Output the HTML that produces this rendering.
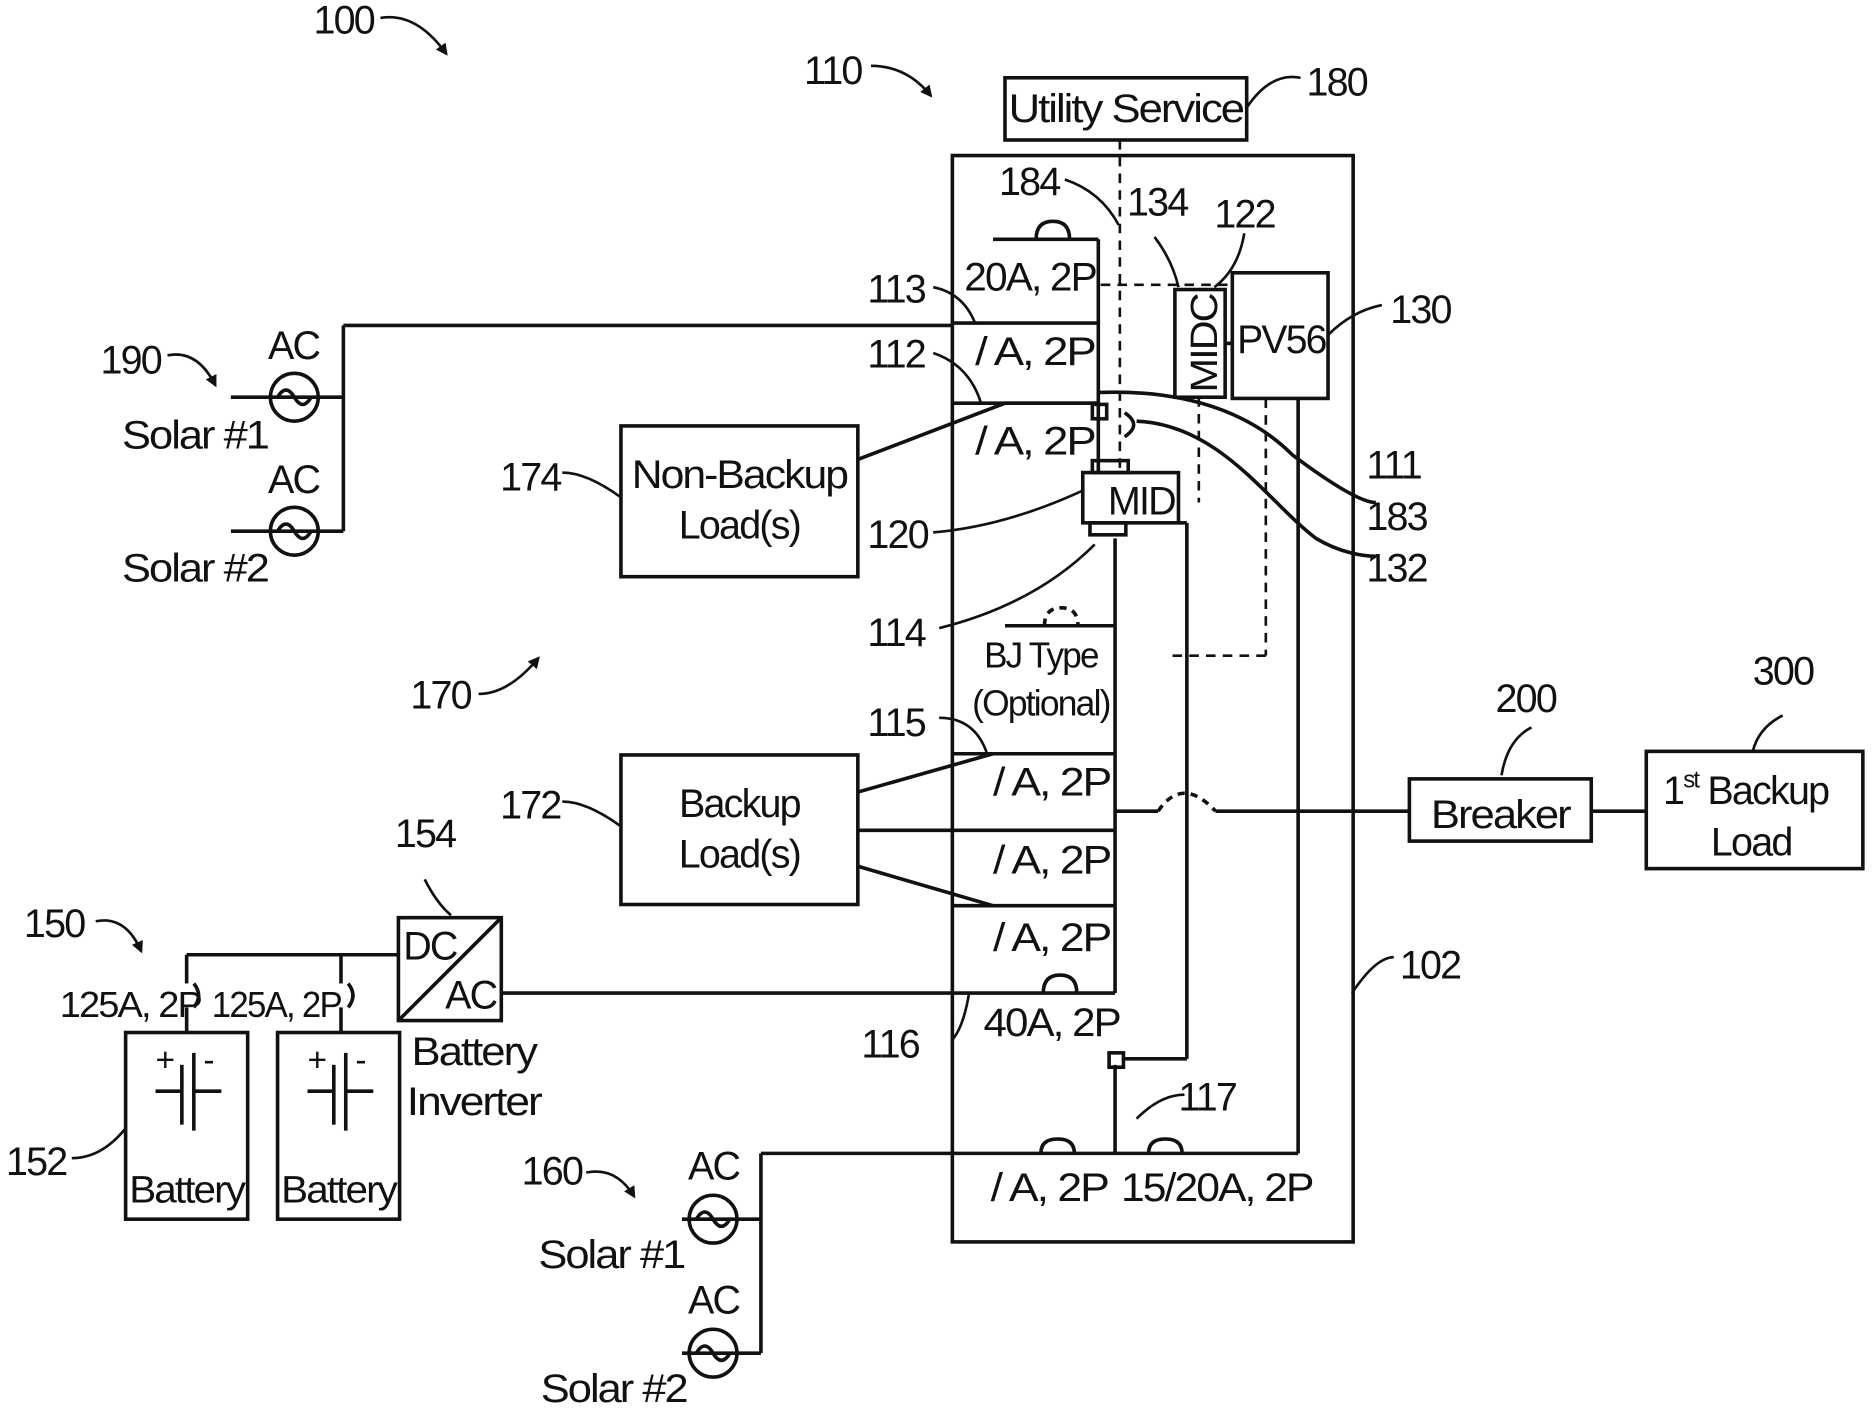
<!DOCTYPE html>
<html><head><meta charset="utf-8"><style>
html,body{margin:0;padding:0;background:#fff;}
svg{display:block;}
text{font-family:"Liberation Sans",sans-serif;fill:#111;letter-spacing:-1.5px;}
</style></head><body>
<svg width="1876" height="1413" viewBox="0 0 1568 1181" xmlns="http://www.w3.org/2000/svg">
<defs><marker id="ah" markerWidth="10" markerHeight="10" refX="8" refY="5" orient="auto" markerUnits="userSpaceOnUse"><path d="M0 0 L10 5 L0 10 Z" fill="#111"/></marker></defs>
<g fill="none" stroke="#111" stroke-width="3">
<rect x="796" y="130" width="335" height="908"/>
<rect x="840" y="65" width="202" height="52"/>
<rect x="982" y="242" width="42" height="90"/>
<rect x="1030" y="228" width="80" height="105"/>
<rect x="905" y="395" width="80" height="42"/>
<rect x="519" y="356" width="198" height="126"/>
<rect x="519" y="631" width="198" height="125"/>
<rect x="1178" y="651" width="152" height="52"/>
<rect x="1376" y="628" width="181" height="98"/>
<rect x="333" y="767" width="86" height="86"/>
<line x1="333" y1="853" x2="419" y2="767"/>
<rect x="105" y="863" width="102" height="156"/>
<rect x="232" y="863" width="102" height="156"/>
<line x1="918" y1="200" x2="918" y2="395"/>
<line x1="932" y1="450" x2="932" y2="830"/>
<line x1="932" y1="890" x2="932" y2="965"/>
<line x1="985" y1="437" x2="992" y2="437"/>
<line x1="992" y1="437" x2="992" y2="885"/>
<line x1="940" y1="885" x2="992" y2="885"/>
<rect x="927" y="880" width="12" height="12"/>
<rect x="913" y="338" width="12" height="12"/>
<line x1="830" y1="200" x2="918" y2="200"/>
<line x1="796" y1="270" x2="918" y2="270"/>
<line x1="796" y1="337" x2="918" y2="337"/>
<line x1="840" y1="523" x2="932" y2="523"/>
<line x1="796" y1="630" x2="932" y2="630"/>
<line x1="796" y1="694" x2="932" y2="694"/>
<line x1="796" y1="757" x2="932" y2="757"/>
<path d="M866 200 q0 -15 14 -15 q14 0 14 15"/>
<path d="M873 523 q0 -15 14 -15 q14 0 14 15" stroke-dasharray="6 5"/>
<path d="M872 830 q0 -15 14 -15 q14 0 14 15"/>
<line x1="287" y1="272" x2="796" y2="272"/>
<line x1="287" y1="272" x2="287" y2="444"/>
<line x1="193" y1="332" x2="287" y2="332"/>
<line x1="193" y1="444" x2="287" y2="444"/>
<circle cx="246" cy="332" r="20"/><circle cx="246" cy="444" r="20"/>
<path d="M232 332 q7 -12 14 0 q7 12 14 0"/>
<path d="M232 444 q7 -12 14 0 q7 12 14 0"/>
<path d="M717 384 L840 337 L918 337"/>
<path d="M918 328 C1000 325 1050 350 1080 380 C1120 410 1140 420 1150 420"/>
<path d="M940 345 q15 10 0 20"/>
<path d="M950 352 C1020 355 1060 420 1100 450 C1120 462 1140 465 1150 465"/>
<path d="M717 662 L830 630"/>
<line x1="717" y1="694" x2="796" y2="694"/>
<path d="M717 724 L830 757"/>
<line x1="419" y1="830" x2="932" y2="830"/>
<line x1="156" y1="798" x2="333" y2="798"/>
<line x1="156" y1="798" x2="156" y2="822"/>
<line x1="285" y1="798" x2="285" y2="822"/>
<path d="M162 822 q8 10 0 20"/><path d="M291 822 q8 10 0 20"/>
<line x1="156" y1="842" x2="156" y2="863"/>
<line x1="285" y1="842" x2="285" y2="863"/>
<line x1="152" y1="890" x2="152" y2="940"/><line x1="162" y1="880" x2="162" y2="945"/>
<line x1="130" y1="912" x2="152" y2="912"/><line x1="162" y1="912" x2="185" y2="912"/>
<line x1="279" y1="890" x2="279" y2="940"/><line x1="289" y1="880" x2="289" y2="945"/>
<line x1="257" y1="912" x2="279" y2="912"/><line x1="289" y1="912" x2="312" y2="912"/>
<line x1="932" y1="678" x2="968" y2="678"/>
<path d="M968 678 q20 -30 48 0" stroke-dasharray="6 5"/>
<line x1="1016" y1="678" x2="1178" y2="678"/>
<line x1="1330" y1="678" x2="1376" y2="678"/>
<line x1="636" y1="964" x2="1085" y2="964"/>
<line x1="1085" y1="333" x2="1085" y2="964"/>
<path d="M870 964 q0 -12 14 -12 q14 0 14 12"/>
<path d="M960 964 q0 -12 14 -12 q14 0 14 12"/>
<line x1="636" y1="964" x2="636" y2="1131"/>
<line x1="570" y1="1019" x2="636" y2="1019"/>
<line x1="570" y1="1131" x2="636" y2="1131"/>
<circle cx="596" cy="1019" r="20"/><circle cx="596" cy="1131" r="20"/>
<path d="M582 1019 q7 -12 14 0 q7 12 14 0"/>
<path d="M582 1131 q7 -12 14 0 q7 12 14 0"/>
<line x1="1024" y1="287" x2="1030" y2="287"/>
<rect x="913" y="385" width="30" height="10"/>
<rect x="911" y="437" width="30" height="10"/>
</g>
<g fill="none" stroke="#111" stroke-width="2.2" stroke-dasharray="8 6">
<line x1="936" y1="117" x2="936" y2="395"/>
<line x1="920" y1="238" x2="1030" y2="238"/>
<line x1="1002" y1="332" x2="1002" y2="420"/>
<line x1="1058" y1="333" x2="1058" y2="548"/>
<line x1="980" y1="548" x2="1058" y2="548"/>
</g>
<g fill="none" stroke="#111" stroke-width="2.2">
<path d="M318 15 q30 -5 55 30" marker-end="url(#ah)"/><path d="M728 55 q30 0 50 25" marker-end="url(#ah)"/>
<path d="M140 297 q25 -5 40 25" marker-end="url(#ah)"/><path d="M80 770 q25 -5 38 25" marker-end="url(#ah)"/>
<path d="M490 980 q25 -5 40 20" marker-end="url(#ah)"/><path d="M400 580 q25 0 50 -30" marker-end="url(#ah)"/>
<path d="M1042 90 q20 -30 45 -25"/><path d="M890 150 q30 10 45 38"/>
<path d="M965 198 q15 20 20 42"/><path d="M1040 195 q-5 30 -25 45"/>
<path d="M1110 280 q20 -20 45 -25"/><path d="M780 240 q25 5 35 30"/>
<path d="M780 295 q30 10 40 42"/><path d="M780 445 q60 -5 125 -35"/>
<path d="M785 525 q80 -20 130 -70"/><path d="M785 600 q30 0 40 30"/>
<path d="M795 870 q10 -10 15 -40"/><path d="M950 935 q20 -20 40 -20"/>
<path d="M1130 830 q20 -30 35 -30"/><path d="M1255 648 q5 -30 25 -40"/>
<path d="M1465 628 q5 -20 25 -30"/><path d="M470 395 q20 0 48 20"/>
<path d="M470 670 q20 0 48 20"/><path d="M355 735 q10 20 22 30"/>
<path d="M60 968 q25 0 45 -25"/>
</g>
<g font-size="33">
<text x="262" y="28">100</text><text x="672" y="70">110</text>
<text x="1092" y="80">180</text><text x="835" y="163">184</text>
<text x="942" y="180">134</text><text x="1015" y="190">122</text>
<text x="1162" y="270">130</text><text x="725" y="253">113</text>
<text x="725" y="307">112</text><text x="1142" y="400">111</text>
<text x="1142" y="443">183</text><text x="1142" y="486">132</text>
<text x="725" y="458">120</text><text x="725" y="540">114</text>
<text x="725" y="615">115</text><text x="418" y="410">174</text>
<text x="418" y="684">172</text><text x="343" y="592">170</text>
<text x="1250" y="595">200</text><text x="1465" y="572">300</text>
<text x="1170" y="818">102</text><text x="720" y="884">116</text>
<text x="985" y="928">117</text><text x="330" y="708">154</text>
<text x="20" y="783">150</text><text x="5" y="982">152</text>
<text x="436" y="990">160</text><text x="84" y="312">190</text>
<text x="843" y="102" textLength="196" lengthAdjust="spacingAndGlyphs">Utility Service</text>
<text x="806" y="243" textLength="110" lengthAdjust="spacingAndGlyphs">20A, 2P</text>
<text x="815" y="305" textLength="100" lengthAdjust="spacingAndGlyphs">/ A, 2P</text>
<text x="815" y="380" textLength="100" lengthAdjust="spacingAndGlyphs">/ A, 2P</text>
<text x="1034" y="295" textLength="74" lengthAdjust="spacingAndGlyphs">PV56</text>
<text x="926" y="430" textLength="56" lengthAdjust="spacingAndGlyphs">MID</text>
<text x="1017" y="328" transform="rotate(-90 1017 328)" font-size="32" textLength="82" lengthAdjust="spacingAndGlyphs">MIDC</text>
<text x="618" y="408" text-anchor="middle" textLength="180" lengthAdjust="spacingAndGlyphs">Non-Backup</text>
<text x="618" y="450" text-anchor="middle">Load(s)</text>
<text x="618" y="683" text-anchor="middle">Backup</text>
<text x="618" y="725" text-anchor="middle">Load(s)</text>
<text x="870" y="558" text-anchor="middle" font-size="30" textLength="95" lengthAdjust="spacingAndGlyphs">BJ Type</text>
<text x="870" y="598" text-anchor="middle" font-size="30" textLength="115" lengthAdjust="spacingAndGlyphs">(Optional)</text>
<text x="830" y="665" textLength="98" lengthAdjust="spacingAndGlyphs">/ A, 2P</text>
<text x="830" y="730" textLength="98" lengthAdjust="spacingAndGlyphs">/ A, 2P</text>
<text x="830" y="795" textLength="98" lengthAdjust="spacingAndGlyphs">/ A, 2P</text>
<text x="822" y="866" textLength="114" lengthAdjust="spacingAndGlyphs">40A, 2P</text>
<text x="828" y="1004" textLength="98" lengthAdjust="spacingAndGlyphs">/ A, 2P</text>
<text x="937" y="1004" textLength="160" lengthAdjust="spacingAndGlyphs">15/20A, 2P</text>
<text x="1196" y="692" textLength="116" lengthAdjust="spacingAndGlyphs">Breaker</text>
<text x="1390" y="672">1<tspan font-size="20" dy="-14">st</tspan><tspan dy="14"> Backup</tspan></text>
<text x="1430" y="715">Load</text>
<text x="337" y="802">DC</text><text x="372" y="843">AC</text>
<text x="344" y="890" textLength="104" lengthAdjust="spacingAndGlyphs">Battery</text><text x="340" y="932" textLength="112" lengthAdjust="spacingAndGlyphs">Inverter</text>
<text x="50" y="850" font-size="30" textLength="118" lengthAdjust="spacingAndGlyphs">125A, 2P</text>
<text x="177" y="850" font-size="30" textLength="108" lengthAdjust="spacingAndGlyphs">125A, 2P</text>
<text x="130" y="895" font-size="28">+</text><text x="170" y="895" font-size="28">-</text>
<text x="257" y="895" font-size="28">+</text><text x="297" y="895" font-size="28">-</text>
<text x="108" y="1005" font-size="32" textLength="96" lengthAdjust="spacingAndGlyphs">Battery</text>
<text x="235" y="1005" font-size="32" textLength="96" lengthAdjust="spacingAndGlyphs">Battery</text>
<text x="224" y="300">AC</text><text x="102" y="375" textLength="122" lengthAdjust="spacingAndGlyphs">Solar #1</text>
<text x="224" y="412">AC</text><text x="102" y="486" textLength="122" lengthAdjust="spacingAndGlyphs">Solar #2</text>
<text x="575" y="986">AC</text><text x="450" y="1060" textLength="122" lengthAdjust="spacingAndGlyphs">Solar #1</text>
<text x="575" y="1098">AC</text><text x="452" y="1172" textLength="122" lengthAdjust="spacingAndGlyphs">Solar #2</text>
</g>
</svg>
</body></html>
